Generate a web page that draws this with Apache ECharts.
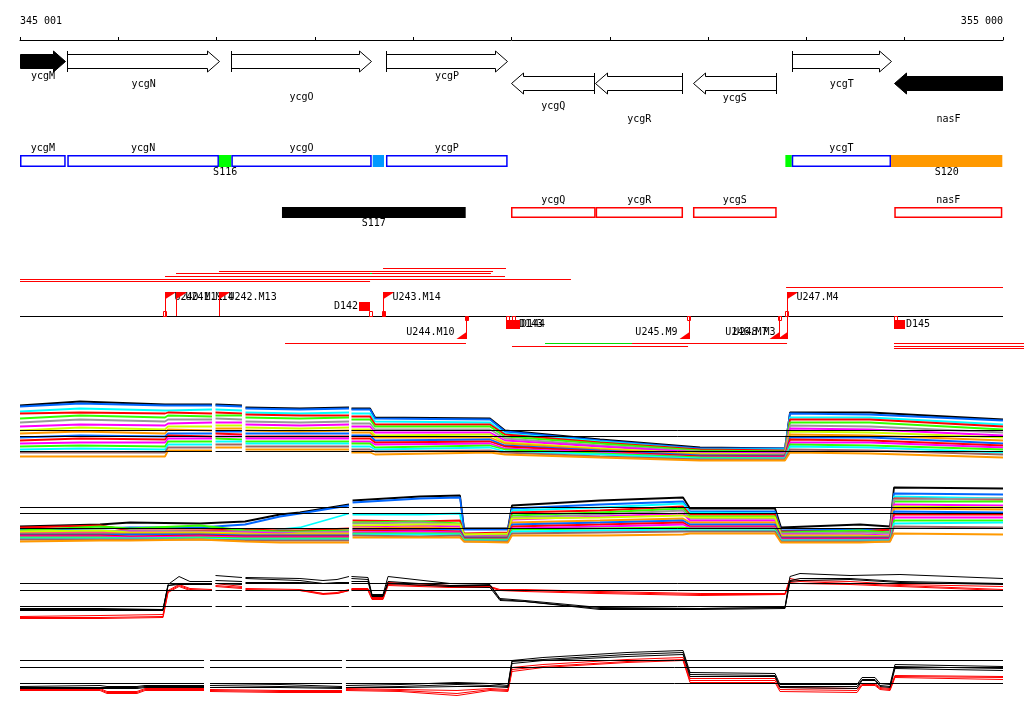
<!DOCTYPE html>
<html><head><meta charset="utf-8">
<script src="https://cdn.jsdelivr.net/npm/echarts@6/dist/echarts.min.js"></script>
<style>html,body{margin:0;padding:0;background:#fff}#c{width:1024px;height:714px}</style>
</head><body><div id="c"></div>
<script>
// ---------------- data ----------------
const X_MIN = 345000, X_MAX = 355000;
const tickLabels = ['345 001', '355 000'];

const geneNames  = ['ycgM','ycgN','ycgO','ycgP','ycgQ','ycgR','ycgS','ycgT','nasF'];
const geneStart  = [345000,345481,347150,348726,349995,350853,351843,352851,353891];
const geneEnd    = [345468,347035,348578,349961,350853,351745,352698,353868,355000];
const geneStrand = [1,1,1,1,-1,-1,-1,1,-1];
const geneMarked = [true,false,false,false,false,false,false,false,true];
const geneLabelTier = [0,1,2,0,1,2,0,1,2];

const boxNames = ['ycgM','ycgN','S116','ycgO','','ycgP','','ycgT','S120','ycgQ','ycgR','ycgS','nasF','S117'];
const boxStart = [345000,345481,347024,347150,348588,348723,352786,352851,353861,349995,350856,351846,353894,347665];
const boxEnd   = [345465,347024,347150,348578,348703,349961,352851,353861,354993,350856,351745,352698,354993,349534];
const boxRow   = [0,0,0,0,0,0,0,0,0,1,1,1,1,1];
const boxKind  = ['cds','cds','segA','cds','segB','cds','segA','cds','segC','orf','orf','orf','orf','block'];

const tuStart = [348693,347024,346587,346475,345000,345000,352793,348561];
const tuEnd   = [349944,349812,349791,349934,350605,348561,355000,348581];
const tuLevel = [0,1,2,3,4,5,7,2];
const tuKind  = ['main','main','main','main','main','main','main','alt'];

const tdStart = [347696,350341,351226,353891,350005,353891,353891];
const tdEnd   = [349537,351226,352803,355214,351796,355214,355214];
const tdLevel = [0,0,0,0,1,1,2];
const tdKind  = ['main','alt','main','main','main','main','main'];

const flagNames = ['U240.M11','U241.M14','U242.M13','U243.M14','U244.M10','U245.M9','U246.M7','U248.M3','U247.M4'];
const flagPos   = [346475,346587,347024,348696,349537,351803,352724,352800,352800];
const flagDir   = [1,1,1,1,-1,-1,-1,-1,1];

const delNames = ['D142','D143','D144','D145'];
const delStart = [348449,349944,350005,353891];
const delEnd   = [348561,350066,350087,354003];
const delSide  = [1,-1,-1,-1];

const sitePos    = [346455,348550,348683,349527,349944,350005,351785,352711,352782,353891];
const siteSide   = [1,1,1,-1,-1,-1,-1,-1,1,-1];
const siteClosed = [false,false,true,true,false,false,false,false,false,false];

// signal panel 1
const p1X = [345000,345610,346475,346506,346953,346971,346989,347258,347276,347294,347848,348347,348360,348372,348561,348612,349781,349934,350900,351918,352782,352833,353647,355000];
const p1Ref = [35,29,14];
const p1Gaps = [[346953,346989],[347258,347294],[348347,348372]];
const p1Lines = [
 [60,64,61,61,61,null,61,60,null,58,57,58,null,57,57,48,47,35,26,18,17,53,53,46],
 [59,62,60,60,60,null,60,59,null,57,56,57,null,56,56,47,46,34,25,17,17,52,51,45],
 [54,57,55,55,56,null,56,55,null,53,52,53,null,52,52,44,43,32,24,16,16,48,48,41],
 [52,53,52,53,52,null,53,52,null,51,50,50,null,49,49,41,41,31,23,16,15,46,46,39],
 [47,50,48,50,49,null,50,50,null,48,47,48,null,46,46,39,39,29,22,15,14,43,43,36],
 [43,46,44,46,46,null,47,46,null,44,43,44,null,42,42,36,36,27,20,14,13,40,39,33],
 [39,41,40,42,43,null,43,43,null,41,40,41,null,39,39,33,33,25,19,13,12,37,36,30],
 [35,38,36,39,39,null,40,40,null,38,37,38,null,36,36,30,31,23,17,12,11,34,33,28],
 [32,34,32,36,35,null,37,37,null,35,34,35,null,33,33,28,28,22,16,11,10,31,30,25],
 [28,30,29,32,32,null,34,34,null,32,32,32,null,30,30,25,26,20,15,10,10,28,28,22],
 [25,27,26,30,29,null,32,31,null,29,29,29,null,27,27,23,24,19,14,9,9,26,25,20],
 [22,23,23,27,27,null,29,29,null,27,27,27,null,24,24,21,22,17,13,8,8,23,23,18],
 [19,20,19,24,24,null,27,26,null,24,24,24,null,22,22,18,20,16,12,8,7,21,20,16],
 [16,17,16,21,21,null,24,24,null,22,22,22,null,19,19,16,18,14,11,7,7,19,18,13],
 [13,13,13,18,18,null,21,21,null,19,19,19,null,16,16,14,15,13,9,6,6,16,15,11],
 [9,9,9,15,15,null,18,18,null,16,16,16,null,13,13,11,13,11,8,5,5,13,12,8]
];

// signal panel 2
const p2X = [345000,345814,346119,346831,347289,347645,347848,348347,348365,348383,349069,349476,349517,349964,350005,350900,351745,351816,352681,352742,353545,353851,353891,355000];
const p2Ref = [41,35,20];
const p2Gaps = [[348347,348383]];
const p2Lines = [
 [22,24,26,25,27,34,36,44,null,48,52,53,20,20,43,48,51,40,40,21,24,22,61,60],
 [19,20,21,21,24,32,35,43,null,46,50,51,19,19,40,44,47,37,37,18,19,18,55,54],
 [14,13,14,15,12,19,21,35,null,34,34,35,8,10,38,41,45,36,35,8,9,9,52,50],
 [21,23,18,18,19,18,18,20,null,28,27,28,15,16,36,38,42,34,34,17,17,19,50,49],
 [18,22,20,23,18,17,17,18,null,26,27,25,14,14,33,36,40,32,32,16,18,16,47,47],
 [17,17,18,17,17,16,16,17,null,25,26,24,13,13,31,34,38,30,30,15,16,15,49,50],
 [16,16,17,16,16,15,15,16,null,22,23,22,12,12,29,32,35,28,28,14,14,13,44,43],
 [17,18,16,16,15,14,15,15,null,23,24,24,14,15,30,31,33,31,31,13,13,12,42,41],
 [15,15,15,15,14,14,14,14,null,20,21,20,11,12,26,28,30,26,26,12,12,12,40,39],
 [14,14,14,14,13,13,13,13,null,19,19,19,11,11,24,26,28,24,24,11,11,11,37,36],
 [13,13,12,13,12,12,12,12,null,18,18,17,10,10,22,24,26,22,22,10,10,10,34,34],
 [12,12,11,12,11,11,11,11,null,16,17,16,9,9,20,22,24,21,21,9,9,9,31,31],
 [11,11,10,11,10,10,10,10,null,15,15,15,9,9,19,20,21,20,20,8,8,8,28,28],
 [10,10,10,10,9,9,9,9,null,14,14,14,8,8,17,18,19,18,18,8,8,8,25,26],
 [9,9,9,9,8,8,8,8,null,13,12,13,7,7,15,16,17,17,17,7,7,7,22,21],
 [7,8,8,9,7,6,6,6,null,11,11,11,7,6,13,13,14,15,15,6,6,7,15,14]
];

// signal panel 3
const p3X = [345000,345814,346455,346506,346618,346729,346953,346971,346989,347258,347276,347294,347848,348082,348225,348347,348360,348372,348540,348581,348693,348744,349374,349781,349883,350137,350900,351918,352782,352833,352935,353444,353952,355000];
const p3Ref = [37,30,14];
const p3Gaps = [[346953,346989],[347258,347294],[348347,348372]];
const p3Black = [
 [11,11,11,36,44,39,39,null,45,43,null,43,42,40,41,44,null,44,43,26,26,44,37,36,22,20,13,12,13,44,47,45,46,42],
 [12,12,11,35,37,37,37,null,40,39,null,42,40,37,37,38,null,42,41,25,25,39,35,35,21,19,12,12,13,40,42,42,39,37],
 [10,10,10,35,36,36,36,null,37,36,null,38,38,37,38,38,null,39,39,24,24,37,34,33,20,19,11,11,12,39,40,41,38,36]
];
const p3Red = [
 [4,5,6,30,36,32,31,null,37,34,null,32,31,27,28,31,null,32,32,23,23,38,35,34,31,31,29,27,27,42,40,39,36,34],
 [3,3,4,29,35,31,30,null,35,33,null,31,30,26,27,30,null,31,31,22,22,36,34,34,30,30,28,26,26,40,39,37,35,31],
 [2,2,3,28,34,30,30,null,34,32,null,30,30,27,27,30,null,31,30,21,21,35,33,33,30,29,27,25,26,38,37,36,34,30]
];

// signal panel 4
const p4X = [345000,345814,345885,346190,346272,346872,346902,346933,347645,348276,348296,348316,348866,349446,349781,349964,350005,350320,351175,351745,351816,352681,352731,353515,353566,353698,353749,353851,353901,355000];
const p4Ref = [40,33,17];
const p4Gaps = [[346872,346933],[348276,348316]];
const p4Black = [
 [14,15,14,14,15,15,null,17,16,14,null,17,16,18,17,15,40,43,48,50,28,27,16,16,23,23,17,16,36,34],
 [13,13,13,13,14,14,null,15,14,13,null,15,14,16,15,14,39,41,46,48,26,25,14,14,21,21,15,14,34,32],
 [12,12,12,12,13,13,null,13,13,12,null,13,13,14,14,13,37,40,44,46,24,24,13,12,20,20,14,13,32,30]
];
const p4Red = [
 [12,12,9,9,12,12,null,11,10,10,null,12,11,10,12,11,33,36,41,43,22,22,13,12,17,17,13,12,25,24],
 [11,11,8,8,11,11,null,10,9,9,null,11,10,7,11,10,31,34,39,41,20,20,11,10,16,16,12,11,24,23],
 [10,10,7,7,10,10,null,9,8,8,null,10,9,5,10,9,29,33,38,40,18,18,9,8,15,15,11,10,23,21]
];

// ---------------- styling ----------------
const FONT = '10px "DejaVu Sans Mono"';
const palette = ['#000000','#0066ff','#00ffff','#ff0000','#33ff00','#999999','#ff00ff','#ccff00',
                 '#ff9900','#0066ff','#ff0000','#ff00ff','#33ff00','#00ffff','#996666','#ff9900'];
const boxStyle = {
  cds:{fill:'#ffffff',stroke:'#0000ff',lineWidth:1.5},
  orf:{fill:'#ffffff',stroke:'#ff0000',lineWidth:1.5},
  segA:{fill:'#00ff00'}, segB:{fill:'#0099ff'}, segC:{fill:'#ff9900'}, block:{fill:'#000000'}
};
const ivColor = {main:'#ff0000', alt:'#00dd00'};

const L = 20, R = 21;
const grids = [
  {top:38, height:2},                       // 0 ruler
  {top:50.5, height:43},                    // 1 genes
  {top:161, height:51.5},                   // 2 boxes
  {top:268.3, height:19},                   // 3 upper intervals
  {top:292.5, height:48},                   // 4 flags
  {top:343.3, height:5.4},                  // 5 lower intervals
  {top:390.5, height:75},                   // 6 panel 1
  {top:480.5, height:68},                   // 7 panel 2
  {top:565.5, height:55},                   // 8 panel 3
  {top:645.5, height:55}                    // 9 panel 4
].map(g => Object.assign({left:L, right:R, containLabel:false, outerBoundsMode:'none', show:false}, g));

const yRanges = [[0,1,false],[0,2,true],[0,1,true],[0,7,true],[-1,1,false],[0,2,true],[0,75,false],[0,68,false],[0,55,false],[0,55,false]];
const yAxes = yRanges.map((r,i) => ({gridIndex:i, type:'value', min:r[0], max:r[1], inverse:r[2], show:false}));

const xAxes = [
  {gridIndex:0, type:'value', position:'top', min:X_MIN, max:X_MAX, interval:1000,
   axisLine:{show:true, lineStyle:{color:'#000', width:1}},
   axisTick:{show:true, length:3, lineStyle:{color:'#000'}},
   splitLine:{show:false},
   axisLabel:{show:true, margin:12, color:'#000', fontFamily:'DejaVu Sans Mono', fontSize:10,
     showMinLabel:true, showMaxLabel:true, alignMinLabel:'left', alignMaxLabel:'right',
     formatter: v => v === X_MIN ? tickLabels[0] : (v === X_MAX ? tickLabels[1] : '')}},
  {gridIndex:0, type:'value', position:'bottom', min:X_MIN, max:X_MAX, interval:1000,
   axisLine:{show:false}, axisTick:{show:true, inside:true, length:2, lineStyle:{color:'#000'}},
   axisLabel:{show:false}, splitLine:{show:false}}
];
for (let g = 1; g < grids.length; g++) {
  xAxes.push({gridIndex:g, type:'value', min:X_MIN, max:X_MAX, show:false, splitLine:{show:false}});
}
const xi = g => g + 1;

const series = [];
const idx = n => Array.from({length:n}, (_, i) => i);

// genes
series.push({
  type:'custom', xAxisIndex:xi(1), yAxisIndex:1, silent:true, animation:false, clip:false,
  encode:{x:[0,1], y:2},
  data: idx(geneNames.length).map(i => [geneStart[i], geneEnd[i], geneStrand[i] > 0 ? 0.5 : 1.5, i]),
  renderItem: (params, api) => {
    const i = api.value(3);
    const p0 = api.coord([api.value(0), api.value(2)]);
    const p1 = api.coord([api.value(1), api.value(2)]);
    const x0 = Math.round(p0[0]) + 0.5, x1 = Math.round(p1[0]) - 0.5, cy = Math.round(p0[1]) + 0.5;
    const bh = 7, hh = 10.5, hl = 12;
    let pts, tailX;
    if (geneStrand[i] > 0) {
      pts = [[x0,cy-bh],[x1-hl,cy-bh],[x1-hl,cy-hh],[x1,cy],[x1-hl,cy+hh],[x1-hl,cy+bh],[x0,cy+bh]]; tailX = x0;
    } else {
      pts = [[x1,cy-bh],[x0+hl,cy-bh],[x0+hl,cy-hh],[x0,cy],[x0+hl,cy+hh],[x0+hl,cy+bh],[x1,cy+bh]]; tailX = x1;
    }
    const filled = geneMarked[i];
    const ch = [{type:'polygon', shape:{points:pts}, style:{fill: filled ? '#000' : '#fff', stroke:'#000', lineWidth:1}}];
    if (!filled) ch.push({type:'line', shape:{x1:tailX, y1:cy-hh, x2:tailX, y2:cy+hh}, style:{stroke:'#000', lineWidth:1}});
    const tier = [14.5, 23, 35.5][geneLabelTier[i]];
    ch.push({type:'text', style:{text:geneNames[i], x:(p0[0]+p1[0])/2, y:cy+tier, align:'center', verticalAlign:'middle', font:FONT, fill:'#000'}});
    return {type:'group', children:ch};
  }
});

// boxes
series.push({
  type:'custom', xAxisIndex:xi(2), yAxisIndex:2, silent:true, animation:false, clip:false,
  encode:{x:[0,1], y:2},
  data: idx(boxNames.length).map(i => [boxStart[i], boxEnd[i], boxRow[i], i]),
  renderItem: (params, api) => {
    const i = api.value(3);
    const p0 = api.coord([api.value(0), api.value(2)]);
    const p1 = api.coord([api.value(1), api.value(2)]);
    const cy = p0[1];
    const half = boxRow[i] === 0 ? 6 : 5.5;
    const st = boxStyle[boxKind[i]];
    const outlined = !!st.stroke;
    const inset = outlined ? 0.75 : 0;
    const ch = [{type:'rect', shape:{x:p0[0]+inset, y:cy-half+inset, width:p1[0]-p0[0]-2*inset, height:2*half-2*inset},
                 style:Object.assign({}, st)}];
    if (boxNames[i]) {
      const above = outlined;
      const dy = above ? -(half + 7) : (half + 5.5);
      ch.push({type:'text', style:{text:boxNames[i], x:(p0[0]+p1[0])/2, y:cy+dy, align:'center', verticalAlign:'middle', font:FONT, fill:'#000'}});
    }
    return {type:'group', children:ch};
  }
});

// intervals
function ivSeries(grid, starts, ends, levels, kinds) {
  return {
    type:'custom', xAxisIndex:xi(grid), yAxisIndex:grid, silent:true, animation:false, clip:false,
    encode:{x:[0,1], y:2},
    data: idx(starts.length).map(i => [starts[i], ends[i], levels[i], i]),
    renderItem: (params, api) => {
      const i = api.value(3);
      const p0 = api.coord([api.value(0), api.value(2)]);
      const p1 = api.coord([api.value(1), api.value(2)]);
      return {type:'rect', shape:{x:p0[0], y:Math.floor(p0[1]), width:p1[0]-p0[0], height:1}, style:{fill:ivColor[kinds[i]]}};
    }
  };
}
series.push(ivSeries(3, tuStart, tuEnd, tuLevel, tuKind));
series.push(ivSeries(5, tdStart, tdEnd, tdLevel, tdKind));

// main feature line
series.push({type:'line', xAxisIndex:xi(4), yAxisIndex:4, silent:true, animation:false, symbol:'none',
  data:[[X_MIN,0],[X_MAX,0]], lineStyle:{color:'#000', width:1}, z:2});

// site markers
series.push({
  type:'custom', xAxisIndex:xi(4), yAxisIndex:4, silent:true, animation:false, clip:false, z:3,
  encode:{x:0, y:1},
  data: idx(sitePos.length).map(i => [sitePos[i], 0, i]),
  renderItem: (params, api) => {
    const i = api.value(2);
    const p = api.coord([api.value(0), 0]);
    const x = Math.round(p[0]) + 0.5, b = Math.floor(p[1]);
    const y = siteSide[i] > 0 ? b - 5 + 0.5 : b + 0.5;
    return {type:'rect', shape:{x:x, y:y, width:3, height:siteSide[i] > 0 ? 5 : 4},
            style:{fill: siteClosed[i] ? '#ff0000' : '#fff', stroke:'#ff0000', lineWidth:1}};
  }
});

// deletions
series.push({
  type:'custom', xAxisIndex:xi(4), yAxisIndex:4, silent:true, animation:false, clip:false, z:4,
  encode:{x:[0,1], y:2},
  data: idx(delNames.length).map(i => [delStart[i], delEnd[i], 0, i]),
  renderItem: (params, api) => {
    const i = api.value(3);
    const p0 = api.coord([api.value(0), 0]);
    const p1 = api.coord([api.value(1), 0]);
    const b = Math.floor(p0[1]);
    const up = delSide[i] > 0;
    const y0 = up ? b - 14 : b + 4;
    return {type:'group', children:[
      {type:'rect', shape:{x:Math.round(p0[0]), y:y0, width:Math.round(p1[0]-p0[0]), height:9}, style:{fill:'#ff0000'}},
      {type:'text', style:{text:delNames[i], x: up ? p0[0]-1 : p1[0]+1, y: y0 + 4.5,
        align: up ? 'right' : 'left', verticalAlign:'middle', font:FONT, fill:'#000'}}
    ]};
  }
});

// flags
series.push({
  type:'custom', xAxisIndex:xi(4), yAxisIndex:4, silent:true, animation:false, clip:false, z:5,
  encode:{x:0, y:1},
  data: idx(flagNames.length).map(i => [flagPos[i], 0, i]),
  renderItem: (params, api) => {
    const i = api.value(2);
    const p = api.coord([api.value(0), 0]);
    const x = Math.round(p[0]) + 0.5, b = Math.floor(p[1]);
    const ch = [];
    if (flagDir[i] > 0) {
      const t = b - 24;
      ch.push({type:'line', shape:{x1:x, y1:b, x2:x, y2:t}, style:{stroke:'#ff0000', lineWidth:1}});
      ch.push({type:'polygon', shape:{points:[[x,t],[x+11,t],[x,t+7]]}, style:{fill:'#ff0000'}});
      ch.push({type:'text', style:{text:flagNames[i], x:x+9, y:t+5.5, align:'left', verticalAlign:'middle', font:FONT, fill:'#000'}});
    } else {
      const bt = b + 23;
      ch.push({type:'line', shape:{x1:x, y1:b, x2:x, y2:bt}, style:{stroke:'#ff0000', lineWidth:1}});
      ch.push({type:'polygon', shape:{points:[[x,bt],[x-10,bt],[x,bt-7]]}, style:{fill:'#ff0000'}});
      ch.push({type:'text', style:{text:flagNames[i], x:x-12, y:bt-7, align:'right', verticalAlign:'middle', font:FONT, fill:'#000'}});
    }
    return {type:'group', children:ch};
  }
});

// signal lines
function lineSeries(grid, xs, ys, color, width, z) {
  return {type:'line', xAxisIndex:xi(grid), yAxisIndex:grid, silent:true, animation:false,
    symbol:'none', showSymbol:false, connectNulls:false, z:z,
    data: xs.map((x, k) => [x, ys[k] === null ? '-' : ys[k]]),
    lineStyle:{color:color, width:width}};
}
function refData(v, gaps) {
  const d = [[X_MIN, v]];
  gaps.forEach(g => { d.push([g[0], v]); d.push([(g[0]+g[1])/2, '-']); d.push([g[1], v]); });
  d.push([X_MAX, v]);
  return d;
}
function refSeries(grid, refs, gaps) {
  refs.forEach(v => series.push({type:'line', xAxisIndex:xi(grid), yAxisIndex:grid, silent:true, animation:false,
    symbol:'none', connectNulls:false, z:6, data: refData(v, gaps), lineStyle:{color:'#000', width:1}}));
}
p1Lines.forEach((ys, k) => series.push(lineSeries(6, p1X, ys, palette[k], 1.8, 3)));
refSeries(6, p1Ref, p1Gaps);
p2Lines.forEach((ys, k) => series.push(lineSeries(7, p2X, ys, palette[k], 1.8, 3)));
refSeries(7, p2Ref, p2Gaps);
p3Black.forEach(ys => series.push(lineSeries(8, p3X, ys, '#000000', 1, 4)));
p3Red.forEach(ys => series.push(lineSeries(8, p3X, ys, '#ff0000', 1, 3)));
refSeries(8, p3Ref, p3Gaps);
p4Black.forEach(ys => series.push(lineSeries(9, p4X, ys, '#000000', 1, 4)));
p4Red.forEach(ys => series.push(lineSeries(9, p4X, ys, '#ff0000', 1, 3)));
refSeries(9, p4Ref, p4Gaps);

const chart = echarts.init(document.getElementById('c'), null, {renderer:'canvas'});
chart.setOption({
  backgroundColor:'#ffffff',
  animation:false,
  grid: grids,
  xAxis: xAxes,
  yAxis: yAxes,
  series: series
});
</script>
</body></html>
